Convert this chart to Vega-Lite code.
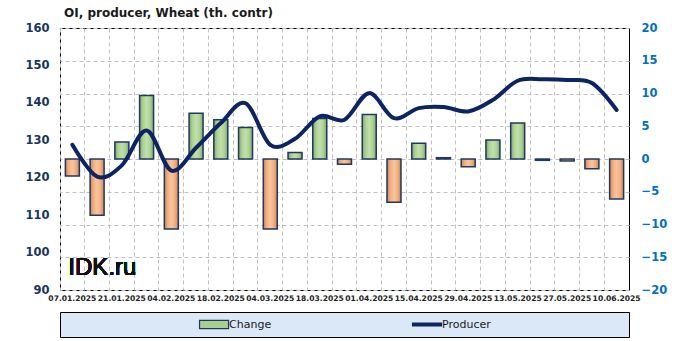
{
  "$schema": "https://vega.github.io/schema/vega-lite/v6.json",
  "background": "white",
  "padding": {"left": 24, "top": 6, "right": 5, "bottom": 4},
  "bounds": "flush",
  "spacing": 22,
  "config": {"font": "DejaVu Sans"},
  "vconcat": [
    {
      "width": 569,
      "height": 262,
      "title": {"text": "OI,  producer, Wheat (th. contr)", "anchor": "start", "frame": "group", "fontSize": 12, "fontWeight": "bold", "color": "#1a1a1a", "offset": 2, "dx": 4, "font": "DejaVu Sans"},
      "view": {"stroke": "black", "strokeWidth": 1, "fill": "white"},
      "data": {"values": [
        {"date": "07.01.2025", "producer": 128.8, "change": -2.6},
        {"date": "14.01.2025", "producer": 120.3, "change": -8.6},
        {"date": "21.01.2025", "producer": 123.3, "change": 2.6},
        {"date": "28.01.2025", "producer": 132.6, "change": 9.7},
        {"date": "04.02.2025", "producer": 121.9, "change": -10.7},
        {"date": "11.02.2025", "producer": 128.0, "change": 7.0},
        {"date": "18.02.2025", "producer": 134.6, "change": 6.0},
        {"date": "25.02.2025", "producer": 139.9, "change": 4.8},
        {"date": "04.03.2025", "producer": 128.8, "change": -10.7},
        {"date": "11.03.2025", "producer": 130.4, "change": 1.0},
        {"date": "18.03.2025", "producer": 136.4, "change": 6.2},
        {"date": "25.03.2025", "producer": 135.5, "change": -0.8},
        {"date": "01.04.2025", "producer": 142.6, "change": 6.8},
        {"date": "08.04.2025", "producer": 135.9, "change": -6.6},
        {"date": "15.04.2025", "producer": 138.6, "change": 2.4},
        {"date": "22.04.2025", "producer": 138.9, "change": 0.2},
        {"date": "29.04.2025", "producer": 137.7, "change": -1.2},
        {"date": "06.05.2025", "producer": 140.8, "change": 2.9},
        {"date": "13.05.2025", "producer": 145.9, "change": 5.5},
        {"date": "20.05.2025", "producer": 146.3, "change": -0.2},
        {"date": "27.05.2025", "producer": 146.1, "change": -0.3},
        {"date": "03.06.2025", "producer": 145.3, "change": -1.5},
        {"date": "10.06.2025", "producer": 138.1, "change": -6.1}
      ]},
      "encoding": {
        "x": {
          "field": "date", "type": "ordinal", "sort": null,
          "scale": {"paddingInner": 0, "paddingOuter": 0},
          "axis": {
            "title": null, "labelAngle": 0, "labelFont": "DejaVu Sans", "labelFontSize": 7.6, "labelFontWeight": "bold", "labelColor": "#222222",
            "ticks": false, "domain": false, "grid": true, "gridDash": [4, 3], "gridColor": "#c0c0c0", "gridWidth": 1,
            "bandPosition": 0, "labelPadding": 4, "labelOverlap": false,
            "labelExpr": "indexof(['07.01.2025','21.01.2025','04.02.2025','18.02.2025','04.03.2025','18.03.2025','01.04.2025','15.04.2025','29.04.2025','13.05.2025','27.05.2025','10.06.2025'], datum.value) >= 0 ? datum.value : ''"
          }
        }
      },
      "layer": [
        {
          "mark": {"type": "bar", "size": 14, "stroke": "#1f3864", "strokeWidth": 1.5},
          "encoding": {
            "y": {
              "field": "change", "type": "quantitative",
              "scale": {"domain": [-20, 20], "nice": false, "zero": true},
              "axis": {"orient": "right", "title": null, "values": [-20, -15, -10, -5, 0, 5, 10, 15, 20], "grid": true, "gridDash": [4, 3], "gridColor": "#c0c0c0", "domain": false, "ticks": false, "labelFont": "DejaVu Sans", "labelFontSize": 11.5, "labelFontWeight": "bold", "labelColor": "#0070c0", "labelPadding": 12}
            },
            "fill": {
              "condition": {"test": "datum.change >= 0", "value": {"gradient": "linear", "x1": 0, "y1": 0, "x2": 1, "y2": 0, "stops": [{"offset": 0, "color": "#7fa865"}, {"offset": 0.25, "color": "#aed296"}, {"offset": 0.5, "color": "#c0e0a8"}, {"offset": 0.75, "color": "#aed296"}, {"offset": 1, "color": "#7fa865"}]}},
              "value": {"gradient": "linear", "x1": 0, "y1": 0, "x2": 1, "y2": 0, "stops": [{"offset": 0, "color": "#cf8554"}, {"offset": 0.25, "color": "#f2b081"}, {"offset": 0.5, "color": "#f8c59e"}, {"offset": 0.75, "color": "#f2b081"}, {"offset": 1, "color": "#cf8554"}]}
            }
          }
        },
        {
          "mark": {"type": "line", "interpolate": "cardinal", "stroke": "#0c2461", "strokeWidth": 4, "strokeCap": "round"},
          "encoding": {
            "y": {
              "field": "producer", "type": "quantitative",
              "scale": {"domain": [90, 160], "nice": false, "zero": false},
              "axis": {"orient": "left", "title": null, "values": [90, 100, 110, 120, 130, 140, 150, 160], "grid": false, "domain": false, "ticks": false, "labelFont": "DejaVu Sans", "labelFontSize": 11.5, "labelFontWeight": "bold", "labelColor": "#17365d", "labelPadding": 11}
            }
          }
        },
        {
          "mark": {"type": "text", "text": "IDK.ru", "font": "Liberation Sans", "fontSize": 24, "align": "left", "baseline": "alphabetic", "dx": -4, "color": "#111111"},
          "encoding": {
            "x": {"datum": "07.01.2025"},
            "y": {"datum": 94.1, "type": "quantitative", "scale": {"domain": [90, 160], "nice": false, "zero": false}, "axis": null}
          }
        }
      ],
      "resolve": {"scale": {"y": "independent"}}
    },
    {
      "width": 569,
      "height": 25,
      "view": {"fill": "#dae8f7", "stroke": "black", "strokeWidth": 1},
      "data": {"values": [{"item": "Change"}, {"item": "Producer"}]},
      "encoding": {
        "x": {"field": "item", "type": "nominal", "sort": null, "scale": {"type": "point", "padding": 0.8357, "align": 0.4327}, "axis": null}
      },
      "layer": [
        {
          "mark": {"type": "point", "filled": true, "size": 841, "opacity": 1, "strokeWidth": 1.2},
          "encoding": {
            "shape": {"field": "item", "type": "nominal", "scale": {"domain": ["Change", "Producer"], "range": ["M-1,-0.28H1V0.28H-1Z", "M-1,-0.1H1V0.1H-1Z"]}, "legend": null},
            "fill": {"field": "item", "type": "nominal", "scale": {"domain": ["Change", "Producer"], "range": ["#a9cf8e", "#0c2461"]}, "legend": null},
            "stroke": {"field": "item", "type": "nominal", "scale": {"domain": ["Change", "Producer"], "range": ["#1f3864", "#0c2461"]}, "legend": null}
          }
        },
        {
          "mark": {"type": "text", "align": "left", "dx": 15, "font": "DejaVu Sans", "fontSize": 11, "color": "#1a1a1a"},
          "encoding": {"text": {"field": "item"}}
        }
      ]
    }
  ]
}
